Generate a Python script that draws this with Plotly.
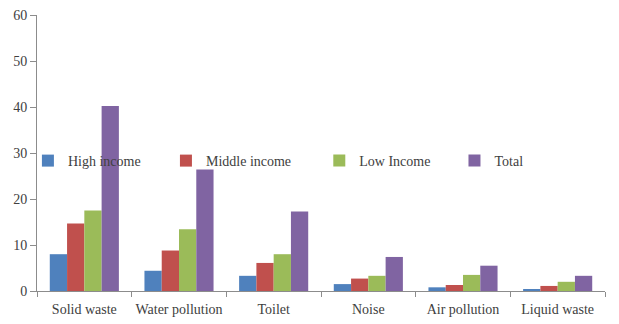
import plotly.graph_objects as go

categories = ["Solid waste", "Water pollution", "Toilet", "Noise", "Air pollution", "Liquid waste"]
high_income = [8.0, 4.4, 3.3, 1.5, 0.8, 0.3]
middle_income = [14.7, 8.8, 6.1, 2.7, 1.3, 1.1]
low_income = [17.5, 13.4, 8.0, 3.3, 3.5, 2.0]
total = [40.2, 26.4, 17.3, 7.4, 5.5, 3.3]
y_ticks = [0, 10, 20, 30, 40, 50, 60]

series = [
    ("High income", high_income, "#4F81BD", "legend", -0.016),
    ("Middle income", middle_income, "#C0504D", "legend2", 0.227),
    ("Low Income", low_income, "#9BBB59", "legend3", 0.497),
    ("Total", total, "#8064A2", "legend4", 0.735),
]

font = dict(family="Liberation Serif", size=14, color="#404040")

fig = go.Figure()
legends = {}
for name, vals, color, lg, lx in series:
    fig.add_trace(go.Bar(name=name, x=categories, y=vals, marker_color=color,
                         marker_line_width=0, legend=lg))
    legends[lg] = dict(x=lx, y=0.471, xanchor="left", yanchor="middle",
                       bgcolor="rgba(0,0,0,0)", font=font)

fig.update_layout(
    width=611, height=316,
    margin=dict(l=29, r=14, t=7, b=33, autoexpand=False),
    paper_bgcolor="white", plot_bgcolor="white",
    barmode="group", bargap=0.27, bargroupgap=0,
    font=font,
    showlegend=True,
    **legends,
)
fig.update_xaxes(showline=True, linecolor="#8c8c8c", linewidth=1, ticks="outside",
                 tickson="boundaries", ticklen=5, tickcolor="#8c8c8c", showgrid=False,
                 tickfont=font, tickangle=0, ticklabeloverflow="allow", ticklabelstandoff=5)
fig.update_yaxes(range=[0, 60], tickvals=y_ticks, showline=True, linecolor="#8c8c8c", linewidth=1,
                 ticks="outside", ticklen=6, tickcolor="#8c8c8c", showgrid=False, zeroline=False,
                 tickfont=font, ticklabeloverflow="allow")
fig.write_html("out.html")
